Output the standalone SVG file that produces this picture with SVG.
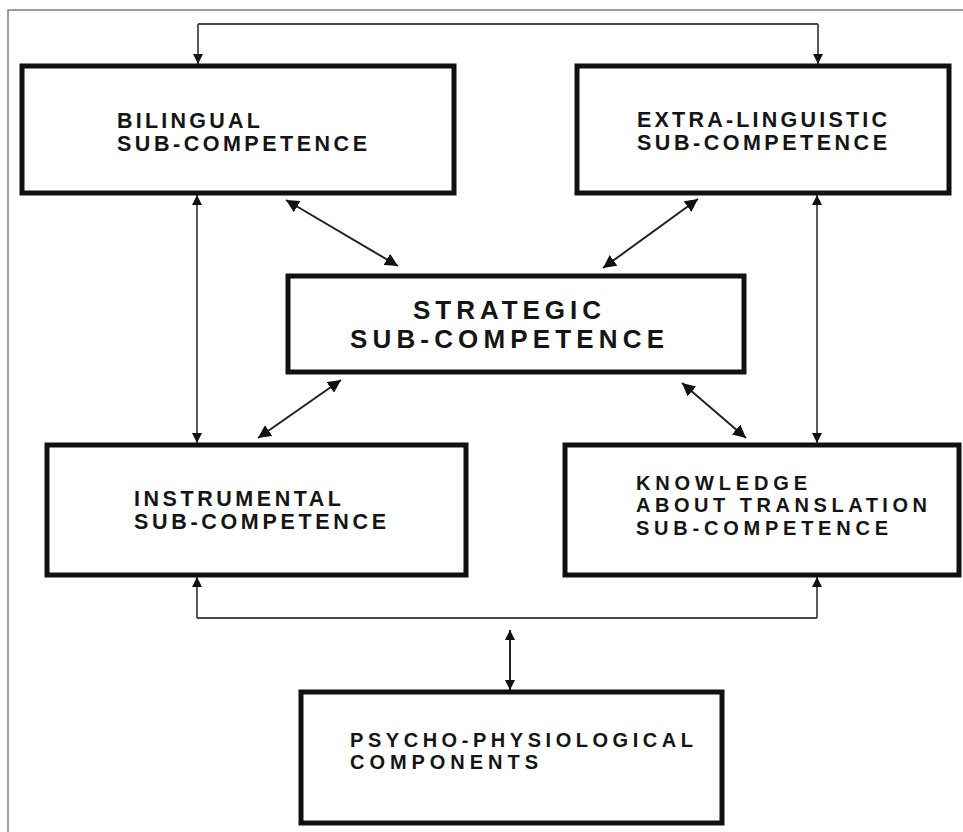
<svg xmlns="http://www.w3.org/2000/svg" width="963" height="832" viewBox="0 0 963 832">
  <style>
    .box { fill: #ffffff; stroke: #111111; stroke-width: 5; }
    .lbl { font-family: "Liberation Sans", Arial, sans-serif; font-weight: bold; font-size: 21.5px; fill: #151515; }
    .big { font-size: 26px; }
    .sm { font-size: 20px; }
    .conn { fill: none; stroke: #4a4a4a; stroke-width: 1.8; }
    .diag { fill: none; stroke: #222222; stroke-width: 2; }
    .frame { fill: none; stroke: #808080; stroke-width: 1.5; }
  </style>
  <defs>
    <marker id="ah" viewBox="0 0 10 10" refX="10" refY="5" markerWidth="10" markerHeight="11" markerUnits="userSpaceOnUse" orient="auto-start-reverse">
      <path d="M0,0 L10,5 L0,10 z" fill="#111111"/>
    </marker>
    <marker id="ahd" viewBox="0 0 10 10" refX="10" refY="5" markerWidth="13" markerHeight="13" markerUnits="userSpaceOnUse" orient="auto-start-reverse">
      <path d="M0,0 L10,5 L0,10 z" fill="#111111"/>
    </marker>
  </defs>
  <rect width="963" height="832" fill="#ffffff"/>
  <path class="frame" d="M8,832 V10 H963"/>

  <g id="connectors">
    <path class="conn" d="M198,24 H818" />
    <path class="conn" d="M198,24 V64" marker-end="url(#ah)"/>
    <path class="conn" d="M818,24 V64" marker-end="url(#ah)"/>
    <path class="conn" d="M197,195 V443" marker-start="url(#ah)" marker-end="url(#ah)"/>
    <path class="conn" d="M817,195 V443" marker-start="url(#ah)" marker-end="url(#ah)"/>
    <path class="conn" d="M197,618 H817"/>
    <path class="conn" d="M197,618 V577" marker-end="url(#ah)"/>
    <path class="conn" d="M817,618 V577" marker-end="url(#ah)"/>
    <path class="diag" d="M510,630 V690" marker-start="url(#ah)" marker-end="url(#ah)"/>
    <path class="diag" d="M286,200 L398,266" marker-start="url(#ahd)" marker-end="url(#ahd)"/>
    <path class="diag" d="M698,199 L603,268" marker-start="url(#ahd)" marker-end="url(#ahd)"/>
    <path class="diag" d="M341,380 L258,438" marker-start="url(#ahd)" marker-end="url(#ahd)"/>
    <path class="diag" d="M682,383 L746,438" marker-start="url(#ahd)" marker-end="url(#ahd)"/>
  </g>

  <g id="bilingual">
    <rect class="box" x="22" y="66" width="432" height="127"/>
    <text class="lbl" x="117" y="128" textLength="143" lengthAdjust="spacing">BILINGUAL</text>
    <text class="lbl" x="117" y="151" textLength="250" lengthAdjust="spacing">SUB-COMPETENCE</text>
  </g>

  <g id="extra-linguistic">
    <rect class="box" x="577" y="66" width="372" height="127"/>
    <text class="lbl" x="637" y="127" textLength="250" lengthAdjust="spacing">EXTRA-LINGUISTIC</text>
    <text class="lbl" x="637" y="150" textLength="250" lengthAdjust="spacing">SUB-COMPETENCE</text>
  </g>

  <g id="strategic">
    <rect class="box" x="288" y="276" width="456" height="96"/>
    <text class="lbl big" x="413" y="319" textLength="188" lengthAdjust="spacing">STRATEGIC</text>
    <text class="lbl big" x="350" y="348" textLength="314" lengthAdjust="spacing">SUB-COMPETENCE</text>
  </g>

  <g id="instrumental">
    <rect class="box" x="47" y="445" width="419" height="130"/>
    <text class="lbl" x="134" y="506" textLength="207" lengthAdjust="spacing">INSTRUMENTAL</text>
    <text class="lbl" x="134" y="529" textLength="252" lengthAdjust="spacing">SUB-COMPETENCE</text>
  </g>

  <g id="knowledge">
    <rect class="box" x="565" y="445" width="394" height="130"/>
    <text class="lbl sm" x="636" y="490" textLength="171" lengthAdjust="spacing">KNOWLEDGE</text>
    <text class="lbl sm" x="636" y="512" textLength="291" lengthAdjust="spacing">ABOUT TRANSLATION</text>
    <text class="lbl sm" x="636" y="535" textLength="252" lengthAdjust="spacing">SUB-COMPETENCE</text>
  </g>

  <g id="psycho">
    <rect class="box" x="301" y="692" width="421" height="131"/>
    <text class="lbl sm" x="350" y="747" textLength="343" lengthAdjust="spacing">PSYCHO-PHYSIOLOGICAL</text>
    <text class="lbl sm" x="350" y="769" textLength="188" lengthAdjust="spacing">COMPONENTS</text>
  </g>
</svg>
